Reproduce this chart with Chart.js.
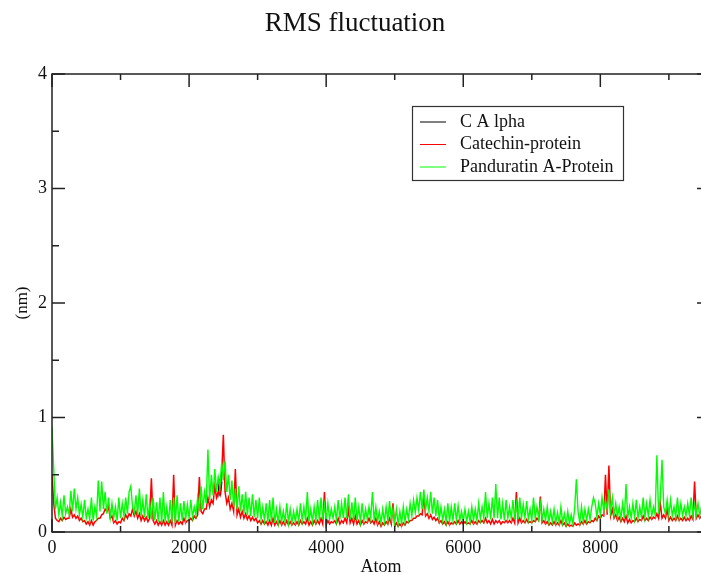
<!DOCTYPE html>
<html>
<head>
<meta charset="utf-8">
<script src="https://cdn.jsdelivr.net/npm/chart.js@4/dist/chart.umd.min.js"></script>
<style>
    html, body { margin: 0; padding: 0; background: #fff; overflow: hidden; }
    #wrap { width: 760px; height: 574px; }
</style>
</head>
<body>
<div id="wrap"><canvas id="rmsf" width="760" height="574"></canvas></div>
<script>
// atom spacing of the sampled traces
const atomStep = 25

// Catechin-protein (red), one value every 25 atoms from 0
const catechin = [
    0.50, 0.25, 0.12, 0.10, 0.09, 0.12, 0.10, 0.13, 0.11, 0.12, 0.12, 0.20, 0.13, 0.15, 0.12, 0.14, 0.10, 0.12, 0.09, 0.10,
    0.07, 0.09, 0.06, 0.10, 0.06, 0.09, 0.10, 0.12, 0.12, 0.15, 0.16, 0.20, 0.18, 0.22, 0.12, 0.14, 0.08, 0.10, 0.07, 0.09,
    0.08, 0.12, 0.10, 0.15, 0.12, 0.16, 0.14, 0.20, 0.14, 0.18, 0.12, 0.16, 0.10, 0.14, 0.10, 0.13, 0.09, 0.12, 0.47, 0.10,
    0.07, 0.10, 0.06, 0.09, 0.06, 0.10, 0.06, 0.09, 0.06, 0.10, 0.06, 0.50, 0.06, 0.10, 0.07, 0.09, 0.07, 0.12, 0.08, 0.10,
    0.10, 0.12, 0.10, 0.14, 0.12, 0.15, 0.48, 0.18, 0.16, 0.20, 0.20, 0.30, 0.22, 0.28, 0.25, 0.40, 0.30, 0.35, 0.32, 0.50,
    0.85, 0.35, 0.25, 0.30, 0.20, 0.25, 0.18, 0.55, 0.15, 0.20, 0.13, 0.18, 0.12, 0.16, 0.11, 0.14, 0.10, 0.13, 0.10, 0.12,
    0.08, 0.10, 0.07, 0.10, 0.07, 0.09, 0.06, 0.10, 0.06, 0.12, 0.06, 0.09, 0.06, 0.10, 0.06, 0.09, 0.06, 0.10, 0.06, 0.09,
    0.06, 0.08, 0.06, 0.09, 0.06, 0.10, 0.07, 0.09, 0.07, 0.12, 0.06, 0.09, 0.06, 0.10, 0.07, 0.10, 0.07, 0.12, 0.07, 0.35,
    0.06, 0.10, 0.07, 0.09, 0.08, 0.10, 0.07, 0.12, 0.07, 0.10, 0.08, 0.12, 0.08, 0.20, 0.08, 0.12, 0.07, 0.14, 0.07, 0.10,
    0.06, 0.10, 0.07, 0.09, 0.08, 0.12, 0.08, 0.10, 0.07, 0.12, 0.06, 0.09, 0.05, 0.08, 0.06, 0.09, 0.07, 0.12, 0.07, 0.25,
    0.05, 0.08, 0.05, 0.07, 0.05, 0.08, 0.06, 0.09, 0.08, 0.10, 0.10, 0.12, 0.12, 0.14, 0.14, 0.16, 0.15, 0.32, 0.14, 0.16,
    0.12, 0.15, 0.11, 0.13, 0.10, 0.12, 0.08, 0.10, 0.07, 0.09, 0.06, 0.09, 0.06, 0.08, 0.07, 0.09, 0.07, 0.10, 0.07, 0.09,
    0.07, 0.09, 0.07, 0.08, 0.07, 0.10, 0.07, 0.09, 0.07, 0.10, 0.08, 0.10, 0.08, 0.12, 0.08, 0.10, 0.07, 0.11, 0.07, 0.10,
    0.08, 0.10, 0.07, 0.09, 0.08, 0.10, 0.08, 0.10, 0.08, 0.12, 0.08, 0.35, 0.08, 0.12, 0.08, 0.10, 0.08, 0.11, 0.08, 0.09,
    0.08, 0.10, 0.09, 0.12, 0.10, 0.31, 0.08, 0.10, 0.07, 0.09, 0.06, 0.08, 0.06, 0.09, 0.06, 0.08, 0.06, 0.10, 0.06, 0.08,
    0.05, 0.07, 0.05, 0.06, 0.05, 0.08, 0.06, 0.07, 0.06, 0.09, 0.07, 0.10, 0.07, 0.09, 0.08, 0.10, 0.09, 0.12, 0.10, 0.14,
    0.12, 0.15, 0.14, 0.50, 0.15, 0.58, 0.14, 0.20, 0.12, 0.15, 0.10, 0.13, 0.09, 0.12, 0.09, 0.14, 0.08, 0.11, 0.08, 0.10,
    0.09, 0.12, 0.09, 0.11, 0.10, 0.14, 0.10, 0.12, 0.10, 0.13, 0.11, 0.13, 0.12, 0.16, 0.12, 0.25, 0.12, 0.15, 0.12, 0.20,
    0.10, 0.13, 0.10, 0.12, 0.10, 0.14, 0.10, 0.12, 0.10, 0.13, 0.10, 0.12, 0.10, 0.14, 0.11, 0.44, 0.12, 0.15, 0.12, 0.14,
    0.10, 0.14, 0.11, 0.16
]

// Panduratin A-Protein (green)
const panduratin = [
    0.92, 0.55, 0.20, 0.30, 0.15, 0.26, 0.14, 0.32, 0.16, 0.22, 0.15, 0.36, 0.18, 0.38, 0.20, 0.30, 0.15, 0.24, 0.13, 0.28,
    0.12, 0.20, 0.11, 0.30, 0.10, 0.22, 0.14, 0.45, 0.18, 0.44, 0.20, 0.35, 0.16, 0.30, 0.13, 0.25, 0.12, 0.22, 0.10, 0.30,
    0.12, 0.25, 0.14, 0.30, 0.16, 0.35, 0.40, 0.22, 0.17, 0.32, 0.15, 0.38, 0.14, 0.28, 0.13, 0.33, 0.12, 0.25, 0.11, 0.30,
    0.10, 0.26, 0.09, 0.30, 0.08, 0.35, 0.09, 0.22, 0.08, 0.28, 0.09, 0.30, 0.08, 0.32, 0.09, 0.25, 0.10, 0.27, 0.11, 0.24,
    0.12, 0.28, 0.13, 0.22, 0.15, 0.30, 0.18, 0.40, 0.20, 0.35, 0.25, 0.72, 0.28, 0.50, 0.32, 0.55, 0.35, 0.48, 0.40, 0.60,
    0.45, 0.62, 0.35, 0.50, 0.28, 0.45, 0.22, 0.38, 0.20, 0.40, 0.18, 0.33, 0.16, 0.35, 0.15, 0.30, 0.14, 0.33, 0.13, 0.28,
    0.12, 0.30, 0.11, 0.22, 0.10, 0.25, 0.09, 0.28, 0.09, 0.30, 0.08, 0.20, 0.08, 0.22, 0.09, 0.18, 0.09, 0.25, 0.08, 0.20,
    0.08, 0.18, 0.09, 0.20, 0.09, 0.25, 0.10, 0.22, 0.10, 0.35, 0.09, 0.20, 0.09, 0.22, 0.10, 0.28, 0.10, 0.30, 0.11, 0.24,
    0.10, 0.25, 0.11, 0.20, 0.12, 0.22, 0.10, 0.28, 0.11, 0.25, 0.12, 0.30, 0.12, 0.33, 0.11, 0.26, 0.10, 0.30, 0.10, 0.22,
    0.09, 0.25, 0.10, 0.20, 0.11, 0.22, 0.12, 0.35, 0.10, 0.22, 0.09, 0.18, 0.08, 0.20, 0.09, 0.22, 0.10, 0.27, 0.11, 0.20,
    0.08, 0.20, 0.07, 0.18, 0.07, 0.22, 0.09, 0.20, 0.11, 0.25, 0.14, 0.28, 0.17, 0.30, 0.19, 0.35, 0.20, 0.37, 0.19, 0.30,
    0.18, 0.35, 0.16, 0.30, 0.14, 0.28, 0.11, 0.22, 0.10, 0.20, 0.09, 0.25, 0.09, 0.22, 0.10, 0.25, 0.10, 0.23, 0.10, 0.18,
    0.10, 0.20, 0.09, 0.18, 0.09, 0.22, 0.10, 0.20, 0.10, 0.25, 0.11, 0.22, 0.12, 0.35, 0.12, 0.25, 0.11, 0.30, 0.12, 0.42,
    0.12, 0.30, 0.11, 0.25, 0.10, 0.28, 0.12, 0.22, 0.12, 0.28, 0.11, 0.25, 0.11, 0.30, 0.12, 0.24, 0.12, 0.27, 0.11, 0.20,
    0.10, 0.30, 0.12, 0.22, 0.12, 0.25, 0.11, 0.20, 0.10, 0.22, 0.09, 0.18, 0.09, 0.20, 0.08, 0.17, 0.08, 0.22, 0.08, 0.16,
    0.07, 0.18, 0.07, 0.15, 0.07, 0.20, 0.46, 0.18, 0.08, 0.22, 0.09, 0.20, 0.10, 0.20, 0.11, 0.22, 0.30, 0.25, 0.13, 0.25,
    0.15, 0.30, 0.18, 0.28, 0.20, 0.37, 0.18, 0.30, 0.15, 0.25, 0.13, 0.22, 0.12, 0.25, 0.12, 0.42, 0.12, 0.22, 0.12, 0.25,
    0.12, 0.28, 0.12, 0.22, 0.13, 0.30, 0.13, 0.25, 0.14, 0.28, 0.14, 0.22, 0.15, 0.67, 0.16, 0.30, 0.63, 0.22, 0.16, 0.28,
    0.15, 0.28, 0.14, 0.22, 0.13, 0.30, 0.13, 0.25, 0.14, 0.22, 0.14, 0.25, 0.14, 0.30, 0.15, 0.24, 0.15, 0.25, 0.14, 0.22,
    0.14, 0.30, 0.15, 0.24
]

// C Alpha (black), only a few points show from under the others
const cAlphaAtoms = [2420, 2440, 2460, 2480]
const cAlpha = [0.30, 0.46, 0.32, 0.44]

const seriesLabels = ['C A lpha', 'Catechin-protein', 'Panduratin A-Protein']
const seriesColors = ['#000000', '#ff0000', '#00ff00']

const xTicks = [0, 2000, 4000, 6000, 8000]
const yTicks = [0, 1, 2, 3, 4]

function toPoints(xs, ys) {
    return ys.map((v, i) => ({ x: xs[i], y: v }))
}

const atoms = panduratin.map((_, i) => i * atomStep)

const serif = 'Liberation Serif'

// frame, inward ticks on all four sides, and the boxed legend
const gracePlugin = {
    id: 'grace',
    afterDraw(chart) {
        const ctx = chart.ctx
        const a = chart.chartArea
        const xs = chart.scales.x
        const ys = chart.scales.y
        ctx.save()
        ctx.strokeStyle = '#222'
        ctx.lineWidth = 1.5
        ctx.strokeRect(a.left, a.top, a.right - a.left, a.bottom - a.top)

        ctx.beginPath()
        for (let v = 0; v <= 9600; v += 1000) {
            const px = xs.getPixelForValue(v)
            const len = v % 2000 === 0 ? 13 : 6
            ctx.moveTo(px, a.bottom); ctx.lineTo(px, a.bottom - len)
            ctx.moveTo(px, a.top); ctx.lineTo(px, a.top + len)
        }
        for (let v = 0; v <= 4; v += 0.5) {
            const py = ys.getPixelForValue(v)
            const len = v % 1 === 0 ? 13 : 7
            ctx.moveTo(a.left, py); ctx.lineTo(a.left + len, py)
            ctx.moveTo(a.right, py); ctx.lineTo(a.right - len, py)
        }
        ctx.stroke()

        // legend box
        ctx.lineWidth = 1.2
        ctx.strokeStyle = '#333'
        ctx.strokeRect(412.5, 106.5, 211, 74)
        ctx.font = '18px "' + serif + '"'
        ctx.textBaseline = 'middle'
        ctx.fillStyle = '#111'
        chart.data.datasets.forEach((ds, i) => {
            const y = 122 + i * 22.5
            ctx.strokeStyle = ds.borderColor
            ctx.lineWidth = 1
            ctx.beginPath()
            ctx.moveTo(420, y); ctx.lineTo(446, y)
            ctx.stroke()
            ctx.fillText(ds.label, 460, y)
        })
        ctx.restore()
    }
}

const ctx = document.querySelector('#rmsf').getContext('2d')
const chart = new Chart(ctx, {
    type: 'line',
    data: {
        datasets: [{
            label: seriesLabels[0],
            data: toPoints(cAlphaAtoms, cAlpha),
            borderColor: seriesColors[0],
            order: 3
        }, {
            label: seriesLabels[1],
            data: toPoints(atoms, catechin),
            borderColor: seriesColors[1],
            borderWidth: 1.5,
            order: 2
        }, {
            label: seriesLabels[2],
            data: toPoints(atoms, panduratin),
            borderColor: seriesColors[2],
            borderWidth: 1.4,
            order: 1
        }]
    },
    options: {
        responsive: false,
        animation: false,
        events: [],
        elements: {
            line: { borderWidth: 1, tension: 0 },
            point: { radius: 0 }
        },
        layout: {
            padding: { left: 0, right: 50, top: 0, bottom: 0 }
        },
        plugins: {
            legend: { display: false },
            tooltip: { enabled: false },
            title: {
                display: true,
                text: 'RMS fluctuation',
                color: '#111',
                font: { family: serif, size: 27, weight: 'normal' },
                padding: { top: 8, bottom: 33.6 }
            }
        },
        scales: {
            x: {
                type: 'linear',
                min: 0,
                max: 9600,
                grid: { display: false, drawTicks: false },
                border: { display: false },
                afterBuildTicks: s => { s.ticks = xTicks.map(v => ({ value: v })) },
                ticks: {
                    autoSkip: false,
                    padding: 5,
                    color: '#111',
                    maxRotation: 0,
                    font: { family: serif, size: 18 },
                    callback: v => String(v)
                },
                title: {
                    display: true,
                    text: 'Atom',
                    color: '#111',
                    font: { family: serif, size: 18 },
                    padding: { top: 0, bottom: -4 }
                },
                afterFit: s => { s.height = 42 }
            },
            y: {
                min: 0,
                max: 4,
                grid: { display: false, drawTicks: false },
                border: { display: false },
                afterBuildTicks: s => { s.ticks = yTicks.map(v => ({ value: v })) },
                ticks: {
                    padding: 5,
                    color: '#111',
                    font: { family: serif, size: 18 }
                },
                title: {
                    display: true,
                    text: '(nm)',
                    color: '#111',
                    font: { family: serif, size: 17 },
                    padding: { top: 12, bottom: 0 }
                },
                afterFit: s => { s.width = 52 }
            }
        }
    },
    plugins: [gracePlugin]
})
</script>
</body>
</html>
